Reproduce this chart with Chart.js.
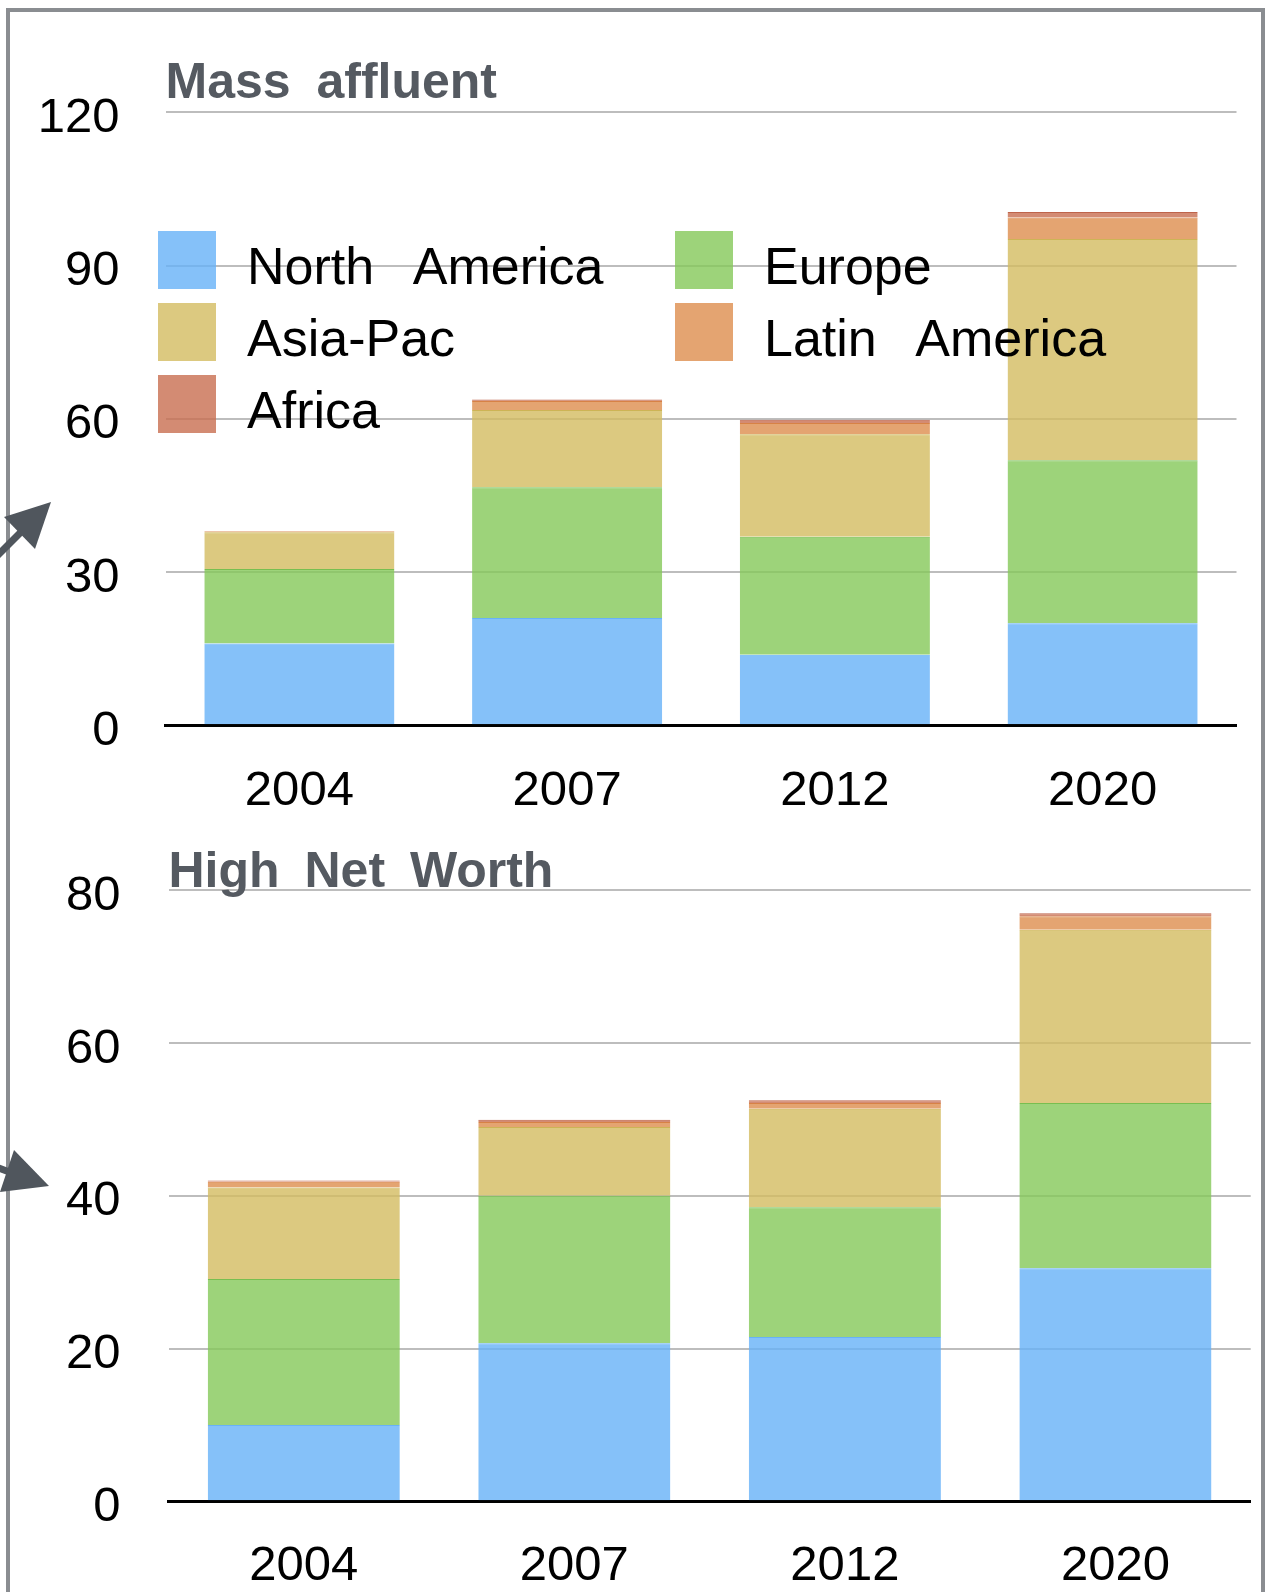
<!DOCTYPE html>
<html><head><meta charset="utf-8">
<script src="https://cdn.jsdelivr.net/npm/chart.js@4/dist/chart.umd.min.js"></script>
<style>
html,body{margin:0;padding:0;background:#fff;}
#wrap{position:relative;width:1270px;height:1592px;overflow:hidden;}
#frame{position:absolute;left:6px;top:8px;width:1259px;height:1700px;box-sizing:border-box;border:4px solid #8a8d91;}
canvas{position:absolute;left:0;}
#c1{top:0;} #c2{top:820px;}
.lg{position:absolute;font-family:'Liberation Sans',Arial,sans-serif;font-size:52px;line-height:58px;color:#000;white-space:pre;word-spacing:27px;}
.sw{position:absolute;width:58px;height:58px;}
svg{position:absolute;left:0;top:0;}
</style></head>
<body>
<div id="wrap">
<div id="frame"></div>
<canvas id="c1" width="1270" height="820"></canvas>
<canvas id="c2" width="1270" height="772"></canvas>
<div id="legend"></div>
<svg width="1270" height="1592">
<line x1="-12" y1="565" x2="24" y2="529" stroke="#50565d" stroke-width="7"/>
<polygon points="51,502 35,549 4,517" fill="#50565d"/>
<line x1="-20" y1="1161" x2="12" y2="1173" stroke="#50565d" stroke-width="7"/>
<polygon points="49,1186 14,1150 0,1192" fill="#50565d"/>
</svg>
</div>
<script>
const categories = ['2004', '2007', '2012', '2020'];
const seriesNames = ['North America', 'Europe', 'Asia-Pac', 'Latin America', 'Africa'];
const seriesColors = ['rgba(103,178,248,0.8)', 'rgba(133,200,89,0.8)', 'rgba(211,188,96,0.8)', 'rgba(221,141,78,0.8)', 'rgba(200,110,80,0.8)'];
const seriesBorders = ['rgba(103,178,248,1)', 'rgba(120,190,80,1)', 'rgba(205,180,85,1)', 'rgba(215,130,70,1)', 'rgba(190,100,75,1)'];

// Mass affluent
const massNorthAmerica = [16, 21, 13.8, 20];
const massEurope = [14.6, 25.6, 23.1, 31.9];
const massAsiaPac = [7.2, 15.1, 20.1, 43.3];
const massLatinAmerica = [0.2, 1.8, 2.2, 4.2];
const massAfrica = [0, 0.3, 0.6, 1.1];

// High Net Worth
const hnwNorthAmerica = [10, 20.7, 21.5, 30.5];
const hnwEurope = [19.1, 19.3, 17.0, 21.65];
const hnwAsiaPac = [12.0, 9.0, 12.9, 22.7];
const hnwLatinAmerica = [0.75, 0.65, 0.75, 1.75];
const hnwAfrica = [0.15, 0.3, 0.35, 0.4];

const massTicksMax = 120, massTicksStep = 30;
const hnwTicksMax = 80, hnwTicksStep = 20;

const FAM = "'Liberation Sans', Arial, sans-serif";

function makeChart(id, series, yMax, step, title, cfg) {
  const datasets = series.map((d, i) => ({
    label: seriesNames[i],
    data: d,
    backgroundColor: seriesColors[i],
    borderColor: seriesBorders[i],
    borderWidth: {top: 1, left: 0, right: 0, bottom: 0},
    borderSkipped: 'start',
    categoryPercentage: 1,
    barPercentage: 0.71
  }));
  return new Chart(document.getElementById(id), {
    type: 'bar',
    data: {labels: categories, datasets},
    plugins: [{
      id: 'wordSpace',
      beforeDraw(chart) { chart.ctx.wordSpacing = cfg.wordSpacing; }
    }],
    options: {
      responsive: false,
      animation: false,
      devicePixelRatio: 1,
      layout: {padding: {top: cfg.padTop, right: cfg.padRight, bottom: 0, left: 0}},
      plugins: {
        legend: {display: false},
        tooltip: {enabled: false},
        title: {
          display: true, text: title, align: 'start', fullSize: false,
          color: '#555a61',
          font: {family: FAM, size: 50, weight: 'bold', lineHeight: cfg.titleLH},
          padding: {top: 0, bottom: cfg.titleBottom}
        }
      },
      scales: {
        x: {
          stacked: true,
          grid: {display: false, drawTicks: false},
          border: {display: true, color: '#000', width: 3},
          ticks: {color: '#000', font: {family: FAM, size: 49}, padding: cfg.xPad, maxRotation: 0},
          afterFit: s => { s.height = cfg.xHeight; s.paddingLeft = 0; s.paddingRight = 0; }
        },
        y: {
          stacked: true, min: 0, max: yMax,
          grid: {color: '#bdbdbd', lineWidth: 2, drawTicks: false},
          border: {display: false},
          ticks: {stepSize: step, color: '#000', font: {family: FAM, size: 49}, padding: cfg.tickPad, labelOffset: 6},
          afterFit: s => { s.width = cfg.yWidth; s.paddingTop = 0; s.paddingBottom = 0; }
        }
      }
    }
  });
}

makeChart('c1', [massNorthAmerica, massEurope, massAsiaPac, massLatinAmerica, massAfrica],
  massTicksMax, massTicksStep, 'Mass affluent',
  {padTop: 64.5, titleLH: 0.8, titleBottom: 7.8, padRight: 33.5, xHeight: 94.7, yWidth: 165.5, tickPad: 46, xPad: 37, wordSpacing: '12px'});

makeChart('c2', [hnwNorthAmerica, hnwEurope, hnwAsiaPac, hnwLatinAmerica, hnwAfrica],
  hnwTicksMax, hnwTicksStep, 'High Net Worth',
  {padTop: 38.2, titleLH: 0.6, titleBottom: 2.1, padRight: 19.3, xHeight: 90.7, yWidth: 168.5, tickPad: 48, xPad: 36, wordSpacing: '11px'});

// legend (HTML overlay, two columns)
const legendEl = document.getElementById('legend');
const colX = [158, 675];
const rowY = [231, 303, 375];
seriesNames.forEach((name, i) => {
  const col = i % 2, row = Math.floor(i / 2);
  const sw = document.createElement('div');
  sw.className = 'sw';
  sw.style.left = colX[col] + 'px';
  sw.style.top = rowY[row] + 'px';
  sw.style.background = seriesColors[i];
  legendEl.appendChild(sw);
  const t = document.createElement('div');
  t.className = 'lg';
  t.style.left = (colX[col] + 89) + 'px';
  t.style.top = (rowY[row] + 6) + 'px';
  t.textContent = name;
  legendEl.appendChild(t);
});
</script>
</body></html>
